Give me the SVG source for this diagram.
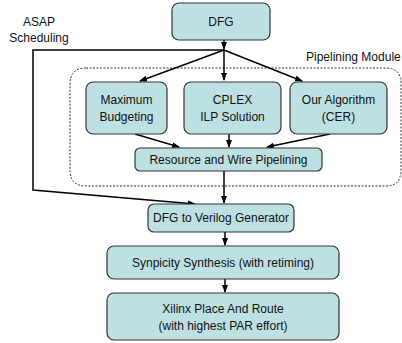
<svg xmlns="http://www.w3.org/2000/svg" width="402" height="343" viewBox="0 0 402 343">
<defs>
<marker id="ah" markerWidth="8" markerHeight="6" refX="7" refY="3" orient="auto" markerUnits="userSpaceOnUse">
<path d="M0,0 L8,3 L0,6 z" fill="#000"/>
</marker>
<style>
.box{fill:#bde0e3;stroke:#333;stroke-width:1.2}
.t{font-family:"Liberation Sans",Arial,sans-serif;font-size:12px;fill:#111;text-anchor:middle}
.l{font-family:"Liberation Sans",Arial,sans-serif;font-size:12px;fill:#111}
.c{fill:none;stroke:#000;stroke-width:1.5}
</style>
</defs>
<rect width="402" height="343" fill="#fff"/>
<g id="pipelining-module">
<path d="M86,68 H386 Q401,68 401,84 V170 Q401,186 386,186 H86 Q70,186 70,170 V84 Q70,68 86,68 z" fill="none" stroke="#333" stroke-width="1" stroke-dasharray="2,1.5"/>
<text class="l" x="306" y="61">Pipelining Module</text>
</g>
<g id="asap-label">
<text class="t" x="39" y="26">ASAP</text>
<text class="t" x="39" y="42">Scheduling</text>
</g>
<g id="connectors">
<line class="c" x1="224" y1="40" x2="224" y2="49" marker-end="url(#ah)"/>
<polyline class="c" points="224,50 33,50 33,190 195,204" stroke-width="1.8" marker-end="url(#ah)"/>
<line class="c" x1="224" y1="50" x2="140" y2="81" marker-end="url(#ah)"/>
<line class="c" x1="224" y1="50" x2="224" y2="80" marker-end="url(#ah)"/>
<line class="c" x1="224" y1="50" x2="302" y2="81" marker-end="url(#ah)"/>
<line class="c" x1="135" y1="134" x2="179" y2="147" marker-end="url(#ah)"/>
<line class="c" x1="229" y1="134" x2="229" y2="147" marker-end="url(#ah)"/>
<line class="c" x1="330" y1="134" x2="267" y2="147" marker-end="url(#ah)"/>
<line class="c" x1="224" y1="171" x2="224" y2="203" marker-end="url(#ah)"/>
<line class="c" x1="225" y1="232" x2="225" y2="245" marker-end="url(#ah)"/>
<line class="c" x1="225" y1="279" x2="225" y2="292" marker-end="url(#ah)"/>
</g>
<g id="dfg">
<rect class="box" x="172" y="3" width="98" height="37" rx="7"/>
<text class="t" x="221" y="26">DFG</text>
</g>
<g id="max-budgeting">
<rect class="box" x="86" y="82" width="81" height="52" rx="7"/>
<text class="t" x="126.5" y="104">Maximum</text>
<text class="t" x="126.5" y="121">Budgeting</text>
</g>
<g id="cplex">
<rect class="box" x="184" y="82" width="97" height="52" rx="7"/>
<text class="t" x="232.5" y="104">CPLEX</text>
<text class="t" x="232.5" y="121">ILP Solution</text>
</g>
<g id="our-algorithm">
<rect class="box" x="290" y="82" width="97" height="52" rx="7"/>
<text class="t" x="338.5" y="104">Our Algorithm</text>
<text class="t" x="338.5" y="121">(CER)</text>
</g>
<g id="resource-wire">
<rect class="box" x="135" y="148" width="187" height="23" rx="5"/>
<text class="t" x="228.5" y="164">Resource and Wire Pipelining</text>
</g>
<g id="dfg-verilog">
<rect class="box" x="148" y="204" width="146" height="28" rx="6"/>
<text class="t" x="221" y="222">DFG to Verilog Generator</text>
</g>
<g id="synpicity">
<rect class="box" x="107" y="246" width="232" height="33" rx="7"/>
<text class="t" x="223" y="267">Synpicity Synthesis (with retiming)</text>
</g>
<g id="xilinx">
<rect class="box" x="107" y="293" width="232" height="47" rx="7"/>
<text class="t" x="223" y="313">Xilinx Place And Route</text>
<text class="t" x="223" y="330">(with highest PAR effort)</text>
</g>
</svg>
